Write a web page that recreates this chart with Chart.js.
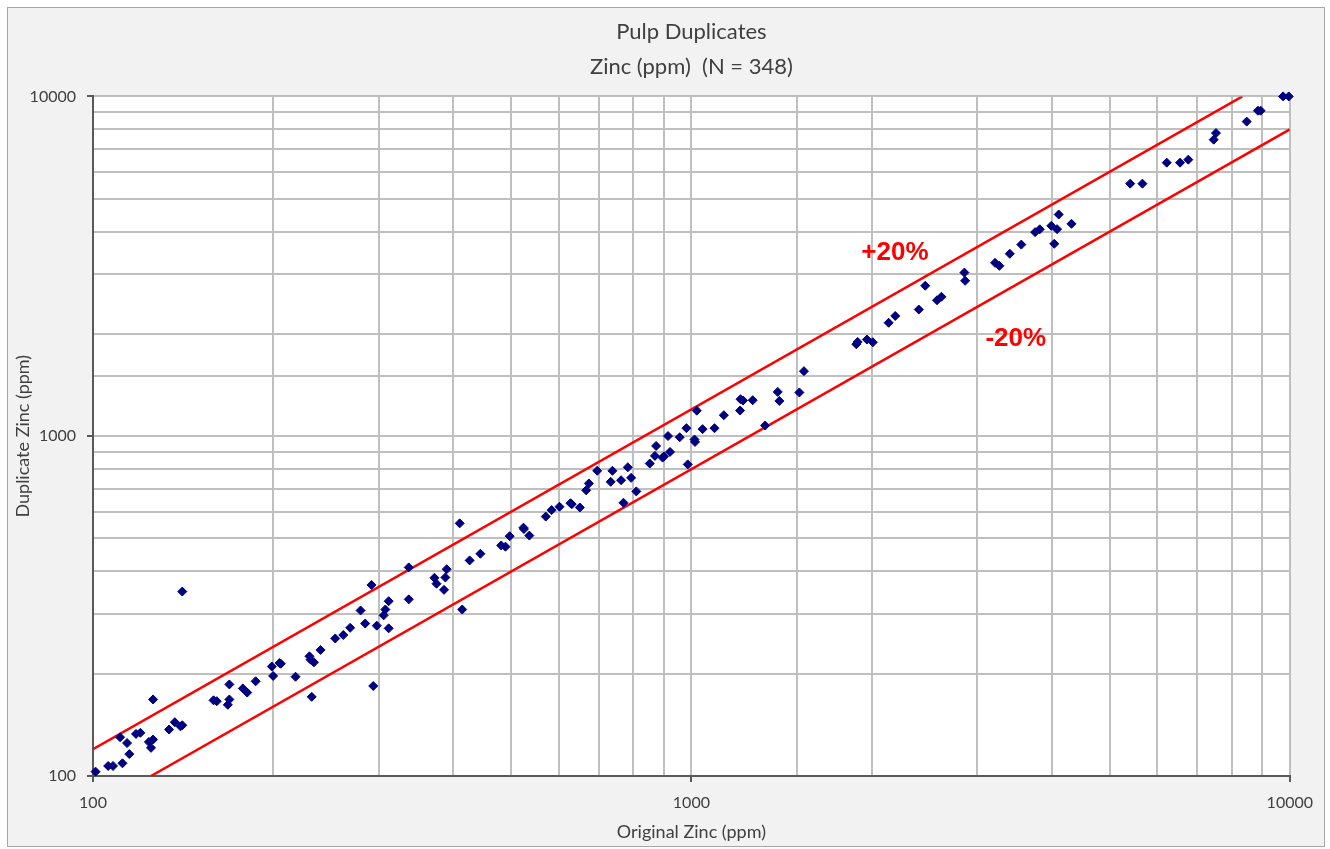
<!DOCTYPE html>
<html>
<head>
<meta charset="utf-8">
<title>Pulp Duplicates - Zinc</title>
<script src="https://cdn.jsdelivr.net/npm/chart.js@4.4.1/dist/chart.umd.min.js"></script>
<style>
    html, body { margin: 0; padding: 0; background: #ffffff; }
    .chart-box {
        position: absolute;
        left: 7px;
        top: 7px;
        width: 1316px;
        height: 838px;
        border: 1px solid #a6a6a6;
        background: #f2f2f2;
    }
    canvas { display: block; }
</style>
</head>
<body>
<div class="chart-box"><canvas id="dupChart" width="1316" height="838"></canvas></div>
<script>
// Pulp duplicate pairs, zinc in ppm
const originalZn = [
    101, 106, 108, 112, 111, 114, 115, 118, 120, 124,
    126, 125, 126, 134, 137, 140, 141, 141, 159, 161,
    169, 169, 168, 178, 181, 187, 199, 205, 206, 200,
    218, 230, 231, 234, 232, 240, 254, 262, 269, 280,
    285, 292, 294, 298, 306, 308, 312, 312, 337, 337,
    372, 375, 388, 390, 386, 410, 414, 426, 444, 481,
    489, 497, 524, 525, 536, 571, 584, 602, 628, 631,
    651, 667, 674, 696, 733, 738, 763, 770, 783, 793,
    809, 852, 873, 869, 895, 900, 914, 921, 956, 981,
    986, 1012, 1014, 1021, 1044, 1093, 1133, 1208, 1220, 1206,
    1266, 1328, 1394, 1403, 1515, 1542, 1886, 1896, 1965, 2010,
    2136, 2191, 2399, 2459, 2573, 2617, 2859, 2867, 3217, 3271,
    3405, 3559, 3753, 3821, 3994, 4084, 4040, 4110, 4317, 5411,
    5672, 6228, 6555, 6767, 7461, 7527, 8471, 8847, 8939, 9746, 9960
];
const duplicateZn = [
    103, 107, 107, 109, 130, 125, 116, 133, 134, 126,
    128, 121, 168, 137, 144, 140, 141, 349, 167, 166,
    186, 168, 162, 181, 176, 190, 210, 215, 214, 197,
    196, 225, 220, 216, 171, 235, 254, 260, 273, 307,
    281, 365, 184, 277, 297, 309, 327, 272, 411, 331,
    383, 368, 384, 406, 353, 554, 309, 431, 451, 477,
    473, 508, 538, 533, 510, 580, 606, 620, 635, 631,
    617, 693, 726, 791, 734, 791, 742, 637, 810, 754,
    688, 831, 936, 875, 865, 872, 1001, 899, 993, 1056,
    826, 978, 962, 1189, 1049, 1056, 1153, 1285, 1274, 1190,
    1276, 1075, 1350, 1270, 1345, 1554, 1865, 1894, 1925, 1890,
    2157, 2259, 2359, 2772, 2512, 2572, 3030, 2867, 3237, 3172,
    3442, 3663, 3986, 4063, 4160, 4068, 3683, 4492, 4217, 5537,
    5537, 6383, 6383, 6515, 7460, 7800, 8429, 9077, 9077, 10000, 10000
];

// +/-20% limit lines (end points in ppm)
const upperLimitX = [100, 8333];
const upperLimitY = [120, 10000];
const lowerLimitX = [125, 10000];
const lowerLimitY = [100, 8000];

// limit line labels, anchored in ppm
const limitLabels = ['+20%', '-20%'];
const limitLabelX = [2188, 3484];
const limitLabelY = [3465, 1938];

// axes
const axisMin = 100;
const axisMax = 10000;
const majorTicks = [100, 1000, 10000];

const labelFont = 'Lato, "Open Sans", sans-serif';
const textColor = '#404040';
const axisColor = '#595959';
const gridColor = '#bfbfbf';

function toPoints(xs, ys) {
    return xs.map(function(x, i) { return { x: x, y: ys[i] }; });
}

function isMajor(value) {
    return majorTicks.indexOf(Math.round(value)) !== -1;
}

// white plot area on the grey chart background
const plotBackground = {
    id: 'plotBackground',
    beforeDraw: function(chart) {
        const a = chart.chartArea;
        const ctx = chart.ctx;
        ctx.save();
        ctx.fillStyle = '#ffffff';
        ctx.fillRect(a.left, a.top, a.right - a.left, a.bottom - a.top);
        ctx.restore();
    }
};

// "+20%" / "-20%" text next to the limit lines
const limitText = {
    id: 'limitText',
    afterDatasetsDraw: function(chart) {
        const ctx = chart.ctx;
        const xs = chart.scales.x;
        const ys = chart.scales.y;
        ctx.save();
        ctx.fillStyle = '#ff0000';
        ctx.font = 'bold 26px "Liberation Sans", Arial, sans-serif';
        ctx.textAlign = 'center';
        ctx.textBaseline = 'middle';
        limitLabels.forEach(function(text, i) {
            ctx.fillText(text, xs.getPixelForValue(limitLabelX[i]), ys.getPixelForValue(limitLabelY[i]));
        });
        ctx.restore();
    }
};

function logAxis(titleText, fit) {
    return {
        type: 'logarithmic',
        min: axisMin,
        max: axisMax,
        afterFit: fit,
        border: { color: axisColor, width: 2 },
        grid: {
            color: gridColor,
            lineWidth: 2,
            tickLength: 6,
            tickWidth: 2,
            tickColor: function(context) {
                return context.tick && isMajor(context.tick.value) ? axisColor : 'rgba(0,0,0,0)';
            }
        },
        ticks: {
            autoSkip: false,
            maxRotation: 0,
            padding: 11,
            color: textColor,
            font: { family: labelFont, size: 16 },
            callback: function(value) {
                return isMajor(value) ? String(Math.round(value)) : '';
            }
        },
        title: {
            display: true,
            text: titleText,
            color: textColor,
            font: { family: labelFont, size: 18 },
            padding: { top: 4, bottom: 3 }
        }
    };
}

function initZincChart() {
    const ctx = document.getElementById('dupChart');
    if (!ctx) return;

    new Chart(ctx, {
        type: 'scatter',
        data: {
            datasets: [{
                label: 'Pulp duplicates',
                data: toPoints(originalZn, duplicateZn),
                pointStyle: 'rectRot',
                pointRadius: 4.5,
                pointBorderWidth: 1,
                backgroundColor: '#000080',
                borderColor: '#000080',
                clip: false
            }, {
                label: '+20%',
                data: toPoints(upperLimitX, upperLimitY),
                showLine: true,
                borderColor: '#ff0000',
                borderWidth: 2.5,
                pointRadius: 0
            }, {
                label: '-20%',
                data: toPoints(lowerLimitX, lowerLimitY),
                showLine: true,
                borderColor: '#ff0000',
                borderWidth: 2.5,
                pointRadius: 0
            }]
        },
        options: {
            responsive: false,
            animation: false,
            layout: { padding: { top: 0, right: 32, bottom: 0, left: 0 } },
            plugins: {
                legend: { display: false },
                tooltip: { enabled: false },
                title: {
                    display: true,
                    fullSize: false,
                    text: ['Pulp Duplicates', 'Zinc (ppm)  (N = 348)'],
                    color: textColor,
                    font: { family: labelFont, size: 22, weight: 'normal', lineHeight: 1.6 },
                    padding: { top: 6, bottom: 12 }
                }
            },
            scales: {
                x: logAxis('Original Zinc (ppm)', function(scale) { scale.height = 70; }),
                y: logAxis('Duplicate Zinc (ppm)', function(scale) { scale.width = 85; })
            }
        },
        plugins: [plotBackground, limitText]
    });
}

initZincChart();
</script>
</body>
</html>
